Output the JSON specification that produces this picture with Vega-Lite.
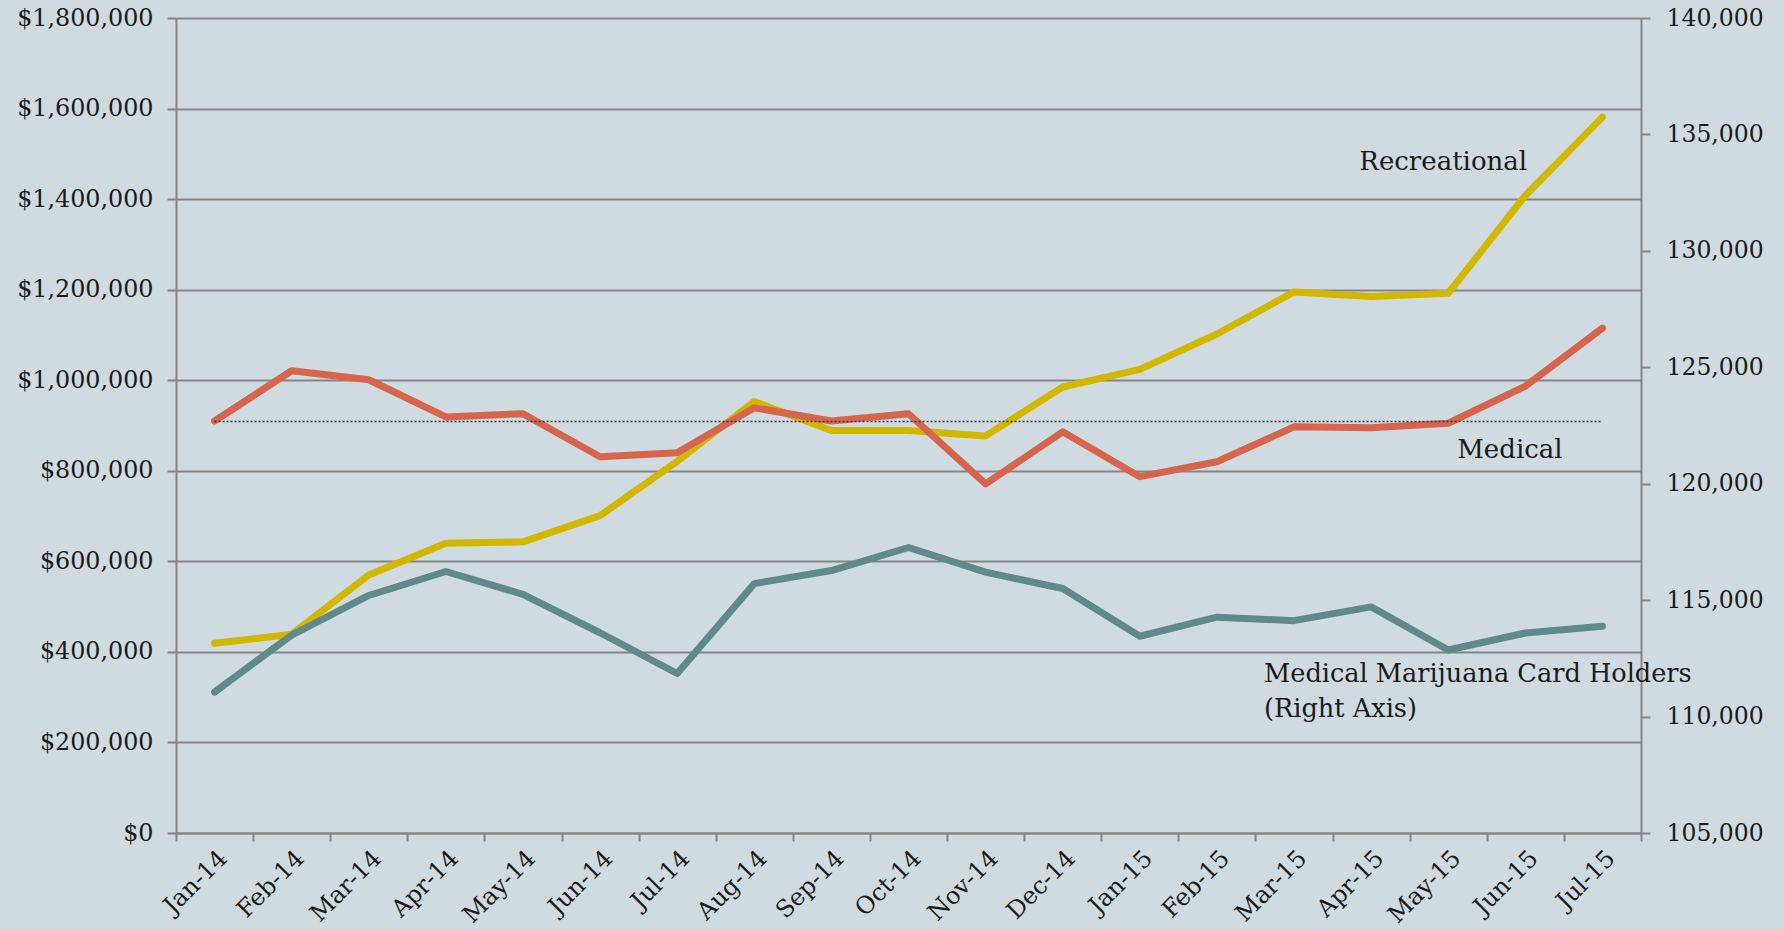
{
  "$schema": "https://vega.github.io/schema/vega-lite/v6.json",
  "width": 1465,
  "height": 815,
  "autosize": {"type": "none"},
  "padding": {"left": 176, "top": 18, "right": 142, "bottom": 96},
  "background": "#cfdbe0",
  "config": {
    "view": {"stroke": null},
    "font": "DejaVu Serif",
    "axis": {
      "labelFont": "DejaVu Serif",
      "labelFontSize": 23,
      "labelColor": "#1a1a1a",
      "domainColor": "#858585",
      "domainWidth": 2,
      "tickColor": "#858585",
      "tickWidth": 2,
      "gridColor": "#858585",
      "gridWidth": 2
    }
  },
  "datasets": {
    "sales": [
      {"month": "Jan-14", "Recreational": 419000, "Medical": 910000, "CardHolders": 111050},
      {"month": "Feb-14", "Recreational": 439000, "Medical": 1021000, "CardHolders": 113500},
      {"month": "Mar-14", "Recreational": 570000, "Medical": 1001000, "CardHolders": 115200},
      {"month": "Apr-14", "Recreational": 640000, "Medical": 919000, "CardHolders": 116230},
      {"month": "May-14", "Recreational": 643000, "Medical": 926000, "CardHolders": 115250},
      {"month": "Jun-14", "Recreational": 701000, "Medical": 831000, "CardHolders": 113600},
      {"month": "Jul-14", "Recreational": 821000, "Medical": 840000, "CardHolders": 111850},
      {"month": "Aug-14", "Recreational": 953000, "Medical": 939000, "CardHolders": 115710},
      {"month": "Sep-14", "Recreational": 889000, "Medical": 910000, "CardHolders": 116270},
      {"month": "Oct-14", "Recreational": 889000, "Medical": 926000, "CardHolders": 117260},
      {"month": "Nov-14", "Recreational": 877000, "Medical": 771000, "CardHolders": 116200},
      {"month": "Dec-14", "Recreational": 985000, "Medical": 886000, "CardHolders": 115500},
      {"month": "Jan-15", "Recreational": 1024000, "Medical": 787000, "CardHolders": 113450},
      {"month": "Feb-15", "Recreational": 1102000, "Medical": 820000, "CardHolders": 114270},
      {"month": "Mar-15", "Recreational": 1195000, "Medical": 897000, "CardHolders": 114120},
      {"month": "Apr-15", "Recreational": 1185000, "Medical": 895000, "CardHolders": 114710},
      {"month": "May-15", "Recreational": 1192000, "Medical": 905000, "CardHolders": 112860},
      {"month": "Jun-15", "Recreational": 1408000, "Medical": 987000, "CardHolders": 113590},
      {"month": "Jul-15", "Recreational": 1581000, "Medical": 1115000, "CardHolders": 113880}
    ],
    "reference": [
      {"month": "Jan-14", "value": 909000},
      {"month": "Jul-15", "value": 909000}
    ]
  },
  "encoding": {
    "x": {
      "field": "month",
      "type": "ordinal",
      "sort": ["Jan-14","Feb-14","Mar-14","Apr-14","May-14","Jun-14","Jul-14","Aug-14","Sep-14","Oct-14","Nov-14","Dec-14","Jan-15","Feb-15","Mar-15","Apr-15","May-15","Jun-15","Jul-15"],
      "scale": {"type": "band", "paddingInner": 0, "paddingOuter": 0},
      "axis": {
        "title": null,
        "labelAngle": -45,
        "labelFontSize": 24,
        "tickBand": "extent",
        "tickSize": 8,
        "labelPadding": 5,
        "grid": false
      }
    }
  },
  "layer": [
    {
      "encoding": {
        "y": {
          "field": "value",
          "type": "quantitative",
          "scale": {"domain": [0, 1800000], "nice": false, "zero": true},
          "axis": {
            "title": null,
            "orient": "left",
            "values": [0, 200000, 400000, 600000, 800000, 1000000, 1200000, 1400000, 1600000, 1800000],
            "format": "$,.0f",
            "labelFontSize": 23.8,
            "tickSize": 9,
            "labelPadding": 14,
            "grid": true
          }
        }
      },
      "layer": [
        {
          "data": {"name": "sales"},
          "transform": [{"fold": ["Recreational", "Medical"], "as": ["series", "value"]}],
          "mark": {"type": "line", "strokeWidth": 7, "strokeCap": "round", "strokeJoin": "round"},
          "encoding": {
            "color": {
              "field": "series",
              "type": "nominal",
              "scale": {"domain": ["Recreational", "Medical"], "range": ["#d2b700", "#d6654b"]},
              "legend": null
            }
          }
        },
        {
          "data": {"name": "reference"},
          "mark": {"type": "line", "color": "#333333", "strokeWidth": 1.5, "strokeDash": [2, 2]}
        },
        {
          "data": {"values": [{"month": "May-15", "value": 1465000, "label": "Recreational"}]},
          "mark": {"type": "text", "align": "center", "baseline": "alphabetic", "fontSize": 26, "color": "#1a1a1a", "dx": -5},
          "encoding": {"text": {"field": "label"}}
        },
        {
          "data": {"values": [{"month": "May-15", "value": 829000, "label": "Medical"}]},
          "mark": {"type": "text", "align": "left", "baseline": "alphabetic", "fontSize": 26, "color": "#1a1a1a", "dx": 9},
          "encoding": {"text": {"field": "label"}}
        },
        {
          "data": {"values": [
            {"month": "Mar-15", "value": 333500, "label": "Medical Marijuana Card Holders"},
            {"month": "Mar-15", "value": 256200, "label": "(Right Axis)"}
          ]},
          "mark": {"type": "text", "align": "left", "baseline": "alphabetic", "fontSize": 25.6, "color": "#1a1a1a", "dx": -30},
          "encoding": {"text": {"field": "label"}}
        }
      ]
    },
    {
      "data": {"name": "sales"},
      "mark": {"type": "line", "color": "#5f8a8a", "strokeWidth": 7, "strokeCap": "round", "strokeJoin": "round"},
      "encoding": {
        "y": {
          "field": "CardHolders",
          "type": "quantitative",
          "scale": {"domain": [105000, 140000], "nice": false, "zero": false},
          "axis": {
            "title": null,
            "orient": "right",
            "values": [105000, 110000, 115000, 120000, 125000, 130000, 135000, 140000],
            "format": ",.0f",
            "labelFontSize": 23.5,
            "tickSize": 9,
            "labelPadding": 16,
            "grid": false
          }
        }
      }
    }
  ],
  "resolve": {"scale": {"y": "independent"}}
}
